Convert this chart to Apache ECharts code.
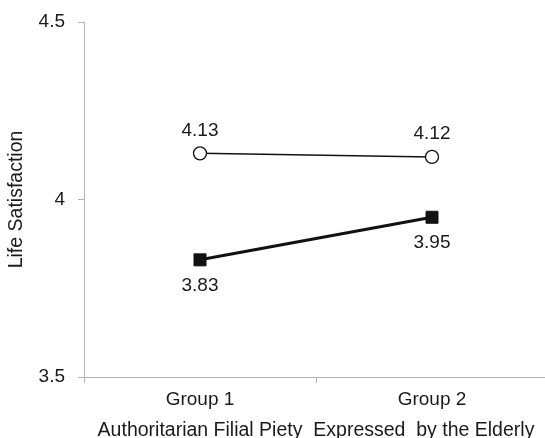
<!DOCTYPE html>
<html>
<head>
<meta charset="utf-8">
<script src="https://cdn.jsdelivr.net/npm/echarts@6/dist/echarts.min.js"></script>
<style>html,body{margin:0;padding:0;background:#fff}#c{width:545px;height:438px}</style>
</head>
<body>
<div id="c"></div>
<script>
var categories = ['Group 1', 'Group 2'];
var highSeries = [4.13, 4.12];
var lowSeries = [3.83, 3.95];
var yTicks = [3.5, 4, 4.5];
var xTitle = 'Authoritarian Filial Piety  Expressed  by the Elderly';
var yTitle = 'Life Satisfaction';

var chart = echarts.init(document.getElementById('c'), null, {renderer: 'canvas'});
var font = 'Liberation Sans, Arial, sans-serif';
chart.setOption({
  animation: false,
  grid: {left: 84, top: 22, bottom: 61, width: 464, containLabel: false, outerBoundsMode: 'none'},
  xAxis: {
    type: 'category',
    data: categories,
    boundaryGap: true,
    axisLine: {lineStyle: {color: '#b3b3b3', width: 1}},
    axisTick: {show: true, length: 6, lineStyle: {color: '#b3b3b3'}},
    axisLabel: {color: '#1a1a1a', fontSize: 19, fontFamily: font, margin: 13},
    name: xTitle,
    nameLocation: 'middle',
    nameGap: 44,
    nameTextStyle: {color: '#1a1a1a', fontSize: 19.5, fontFamily: font}
  },
  yAxis: {
    type: 'value',
    min: yTicks[0],
    max: yTicks[yTicks.length - 1],
    interval: 0.5,
    axisLine: {show: true, lineStyle: {color: '#b3b3b3', width: 1}},
    axisTick: {show: true, length: 6, lineStyle: {color: '#b3b3b3'}},
    splitLine: {show: false},
    axisLabel: {color: '#1a1a1a', fontSize: 19, fontFamily: font, margin: 19,
      formatter: function (v) { return String(v); }},
    name: yTitle,
    nameLocation: 'middle',
    nameGap: 57,
    nameRotate: 90,
    nameTextStyle: {color: '#1a1a1a', fontSize: 19.5, fontFamily: font}
  },
  series: [
    {
      type: 'line',
      data: highSeries,
      symbol: 'circle',
      symbolSize: 13,
      lineStyle: {color: '#111', width: 1.5},
      itemStyle: {color: '#fff', borderColor: '#111', borderWidth: 1.3},
      label: {show: true, position: 'top', distance: 6, color: '#1a1a1a', fontSize: 19, fontFamily: font}
    },
    {
      type: 'line',
      data: lowSeries,
      symbol: 'rect',
      symbolSize: 12,
      lineStyle: {color: '#111', width: 3},
      itemStyle: {color: '#111', borderColor: '#111'},
      label: {show: true, position: 'bottom', distance: 10, color: '#1a1a1a', fontSize: 19, fontFamily: font}
    }
  ]
});
</script>
</body>
</html>
